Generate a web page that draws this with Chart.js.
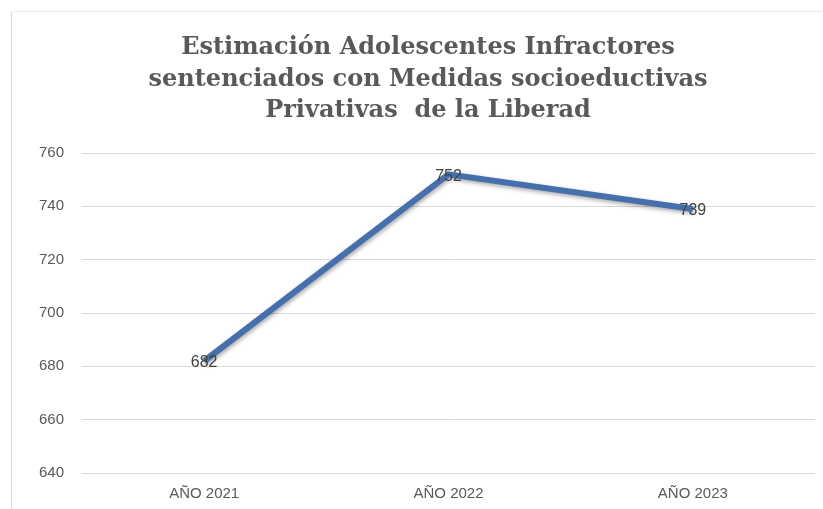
<!DOCTYPE html>
<html>
<head>
<meta charset="utf-8">
<script src="https://cdn.jsdelivr.net/npm/chart.js@4.4.1/dist/chart.umd.min.js"></script>
<style>
  html, body { margin: 0; padding: 0; background: #fff; }
  #frame { position: absolute; left: 11px; top: 11px; right: -2px; bottom: -2px;
           border-left: 1px solid #d9d9d9; border-top: 1px solid #ececec; }
  #wrap { position: absolute; left: 0; top: 0; width: 823px; height: 509px; }
</style>
</head>
<body>
<div id="frame"></div>
<div id="wrap"><canvas id="chart"></canvas></div>
<script>
const titleLines = [
    'Estimación Adolescentes Infractores',
    'sentenciados con Medidas socioeductivas',
    'Privativas  de la Liberad'
];
const years = ['AÑO 2021', 'AÑO 2022', 'AÑO 2023'];
const sentenced = [682, 752, 739];
const yTicks = { min: 640, max: 760, step: 20 };

// title sits a bit right of the canvas centre, as in the original
const chartTitle = {
    id: 'chartTitle',
    afterDraw(chart) {
        const ctx = chart.ctx;
        ctx.save();
        ctx.font = 'bold 24px "DejaVu Serif", serif';
        ctx.fillStyle = '#595959';
        ctx.textAlign = 'center';
        ctx.textBaseline = 'middle';
        titleLines.forEach((line, i) => {
            ctx.fillText(line, 428, 48 + i * 31.5);
        });
        ctx.restore();
    }
};

// value labels centred on each point
const pointLabels = {
    id: 'pointLabels',
    afterDatasetsDraw(chart) {
        const ctx = chart.ctx;
        const meta = chart.getDatasetMeta(0);
        ctx.save();
        ctx.font = '16px "Liberation Sans", sans-serif';
        ctx.fillStyle = '#404040';
        ctx.textAlign = 'center';
        ctx.textBaseline = 'middle';
        meta.data.forEach((pt, i) => {
            ctx.fillText(sentenced[i], pt.x, pt.y + 2);
        });
        ctx.restore();
    }
};

// soft shadow under the line
const lineShadow = {
    id: 'lineShadow',
    beforeDatasetDraw(chart) {
        const ctx = chart.ctx;
        ctx.save();
        ctx.shadowColor = 'rgba(0,0,0,0.35)';
        ctx.shadowBlur = 4;
        ctx.shadowOffsetX = 1;
        ctx.shadowOffsetY = 2;
    },
    afterDatasetDraw(chart) {
        chart.ctx.restore();
    }
};

new Chart(document.getElementById('chart'), {
    type: 'line',
    data: {
        labels: years,
        datasets: [{
            data: sentenced,
            borderColor: '#4570ad',
            borderWidth: 6,
            pointRadius: 0,
            tension: 0,
            fill: false
        }]
    },
    options: {
        responsive: true,
        maintainAspectRatio: false,
        animation: false,
        layout: { padding: { left: 0, right: 8, top: 153, bottom: -6 } },
        plugins: {
            legend: { display: false },
            tooltip: { enabled: false },
            title: { display: false }
        },
        scales: {
            x: {
                offset: true,
                grid: { display: false, drawTicks: false },
                border: { display: false },
                ticks: { color: '#595959', font: { family: '"Liberation Sans", sans-serif', size: 15 }, padding: 12 }
            },
            y: {
                min: yTicks.min,
                max: yTicks.max,
                afterFit(scale) { scale.width = 82; },
                grid: { color: '#d9d9d9', drawTicks: false },
                border: { display: false },
                ticks: {
                    stepSize: yTicks.step,
                    color: '#595959',
                    font: { family: '"Liberation Sans", sans-serif', size: 15 },
                    padding: 18
                }
            }
        }
    },
    plugins: [lineShadow, pointLabels, chartTitle]
});
</script>
</body>
</html>
